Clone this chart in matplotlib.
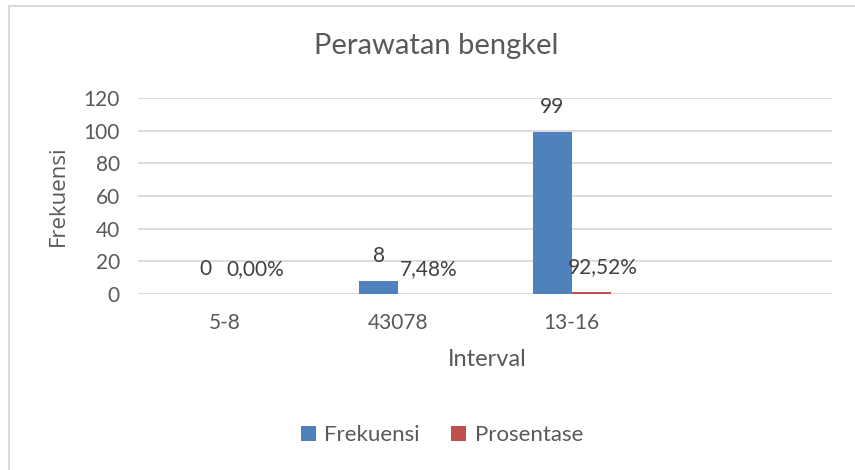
import matplotlib
matplotlib.use("Agg")
import matplotlib.pyplot as plt
from matplotlib.lines import Line2D
import numpy as np

# data
categories = ["5-8", "43078", "13-16", ""]
frekuensi = [0, 8, 99, None]
prosentase = [0.0, 0.0748, 0.9252, None]
frek_labels = ["0", "8", "99"]
pros_labels = ["0,00%", "7,48%", "92,52%"]

blue = "#4F81BD"
red = "#C0504D"
text_col = "#595959"
grid_col = "#D9D9D9"

plt.rcParams["font.family"] = ["Lato", "DejaVu Sans"]

W, H = 855, 470
fig = plt.figure(figsize=(W / 100, H / 100), dpi=100)
ax = fig.add_axes([138 / W, 1 - 294 / H, (832 - 138) / W, (294 - 98) / H])

x = np.arange(len(categories))
bw = 0.226
fvals = [v if v is not None else 0 for v in frekuensi]
pvals = [v if v is not None else 0 for v in prosentase]
ax.bar(x - bw / 2, fvals, bw, color=blue, label="Frekuensi", zorder=3)
ax.bar(x + bw / 2, pvals, bw, color=red, label="Prosentase", zorder=3)

for i in range(3):
    ax.annotate(frek_labels[i], (x[i] - bw / 2, fvals[i]), xytext=(0, 18),
                textcoords="offset points", ha="center", va="center",
                fontsize=15, color="#404040")
    ax.annotate(pros_labels[i], (x[i] + bw / 2, pvals[i]), xytext=(8, 18),
                textcoords="offset points", ha="center", va="center",
                fontsize=15, color="#404040")

ax.set_xlim(-0.5, len(categories) - 0.5)
ax.set_ylim(0, 120)
ax.set_yticks(range(0, 121, 20))
ax.set_xticks(x)
ax.set_xticklabels(categories)
ax.yaxis.grid(True, color=grid_col, linewidth=1.3, zorder=0)
for s in ax.spines.values():
    s.set_visible(False)
ax.tick_params(length=0, labelsize=15, colors=text_col)
ax.tick_params(axis="x", pad=14)
ax.tick_params(axis="y", pad=13)

ax.set_xlabel("Interval", fontsize=17, color=text_col, va="center")
ax.xaxis.set_label_coords(0.503, -0.332)
# y title placed directly, centred at about (58, 196) px
fig.text(58 / W, 1 - 196 / H, "Frekuensi", rotation=90, ha="center", va="center",
         fontsize=16, color=text_col, family="Open Sans")
fig.text(436 / W, 1 - 46 / H, "Perawatan bengkel", ha="center", va="center",
         fontsize=21, color=text_col)

fig.legend(loc="center", bbox_to_anchor=(442 / W, 1 - 435 / H), ncol=2, frameon=False,
           fontsize=16, labelcolor=text_col, handlelength=0.65, handleheight=0.65,
           handletextpad=0.4, columnspacing=1.4)

# chart border (only top and left visible in the crop)
fig.add_artist(Line2D([8.5 / W, 8.5 / W], [0, 1 - 6 / H], transform=fig.transFigure,
                      color=grid_col, linewidth=1.5))
fig.add_artist(Line2D([8.5 / W, 1], [1 - 6 / H, 1 - 6 / H], transform=fig.transFigure,
                      color=grid_col, linewidth=1.5))

fig.savefig("out.png", dpi=100)
